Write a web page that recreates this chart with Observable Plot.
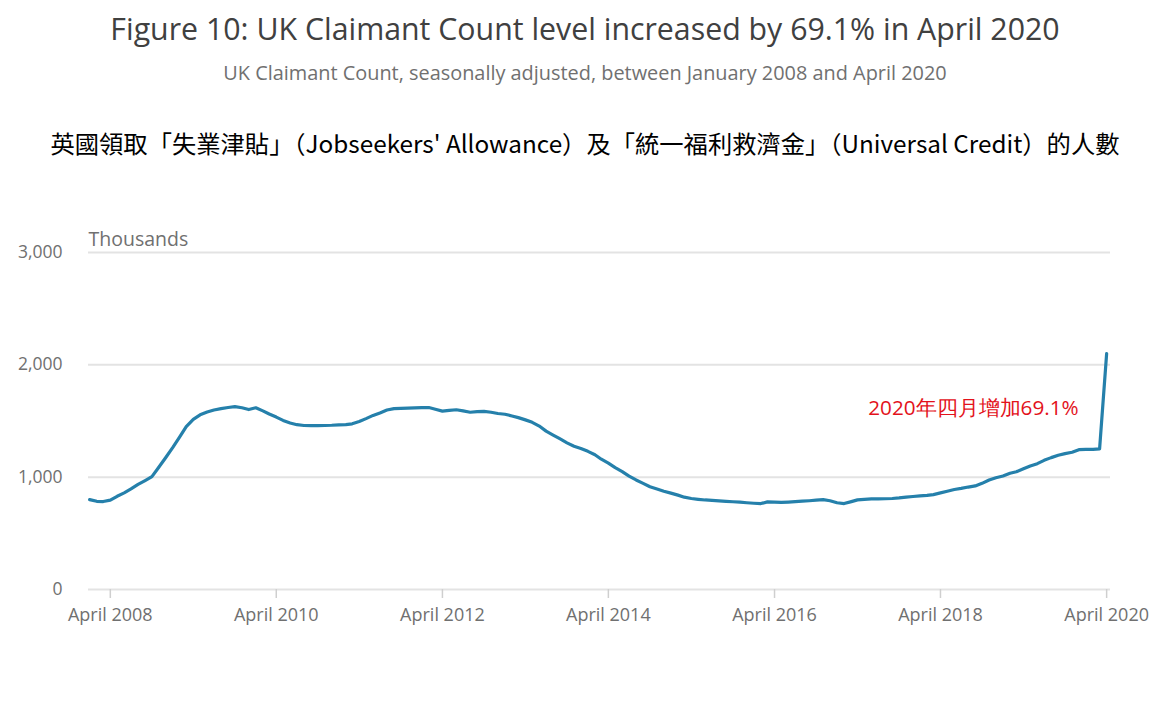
<!DOCTYPE html>
<html>
<head>
<meta charset="utf-8">
<script src="https://cdn.jsdelivr.net/npm/d3@7"></script>
<script src="https://cdn.jsdelivr.net/npm/@observablehq/plot@0.6"></script>
<style>
  body { margin: 0; background: #fff; width: 1170px; height: 722px; position: relative; overflow: hidden; font-family: "Open Sans", sans-serif; }
  #title { position: absolute; left: 0; width: 1170px; top: 9px; text-align: center; font-size: 30.3px; line-height: 40px; color: #404040; }
  #subtitle { position: absolute; left: 0; width: 1170px; top: 61px; text-align: center; font-size: 19.9px; line-height: 24px; color: #707070; }
  #zh { position: absolute; left: 0; width: 1170px; top: 127px; text-align: center; font-family: "Noto Sans CJK TC", sans-serif; font-size: 24.3px; line-height: 32px; color: #000; }
  #chart { position: absolute; left: 0; top: 180px; }
</style>
</head>
<body>
<div id="title">Figure 10: UK Claimant Count level increased by 69.1% in April 2020</div>
<div id="subtitle">UK Claimant Count, seasonally adjusted, between January 2008 and April 2020</div>
<div id="zh">英國領取「失業津貼」（Jobseekers' Allowance）及「統一福利救濟金」（Universal Credit）的人數</div>
<div id="chart"></div>
<script>
// UK Claimant Count, thousands, monthly from January of each year
const v2008 = [800, 785, 783, 795, 830, 860, 895, 935, 970, 1005, 1090, 1175];
const v2009 = [1265, 1360, 1450, 1515, 1555, 1580, 1598, 1610, 1620, 1628, 1618, 1602];
const v2010 = [1618, 1590, 1562, 1535, 1505, 1482, 1467, 1460, 1458, 1459, 1460, 1462];
const v2011 = [1466, 1468, 1475, 1495, 1521, 1550, 1572, 1598, 1610, 1612, 1614, 1617];
const v2012 = [1619, 1620, 1605, 1588, 1595, 1600, 1590, 1578, 1583, 1586, 1578, 1567];
const v2013 = [1560, 1545, 1530, 1510, 1488, 1455, 1410, 1375, 1340, 1305, 1275, 1255];
const v2014 = [1230, 1200, 1160, 1125, 1085, 1050, 1010, 975, 945, 915, 895, 875];
const v2015 = [858, 840, 822, 810, 803, 797, 793, 789, 785, 781, 777, 772];
const v2016 = [768, 765, 780, 778, 775, 778, 782, 786, 790, 795, 800, 790];
const v2017 = [772, 765, 780, 798, 803, 806, 807, 808, 810, 815, 822, 828];
const v2018 = [834, 838, 845, 860, 875, 890, 900, 912, 922, 945, 975, 995];
const v2019 = [1010, 1035, 1048, 1075, 1100, 1120, 1150, 1174, 1195, 1210, 1222, 1245];
const v2020 = [1248, 1248, 1252, 2100];
const yearSeries = [v2008, v2009, v2010, v2011, v2012, v2013, v2014, v2015, v2016, v2017, v2018, v2019, v2020];
const firstYear = 2008;

const yTicks = [0, 1000, 2000, 3000];
const xTickYears = [2008, 2010, 2012, 2014, 2016, 2018, 2020];
const xTickMonth = 3; // April
const monthName = "April";
const axisUnit = "Thousands";
const annotation = [{year: 2020, month: 3, value: 1612, label: "2020年四月增加69.1%"}];

const data = [];
yearSeries.forEach((arr, i) => arr.forEach((v, m) => data.push({date: new Date(Date.UTC(firstYear + i, m, 1)), value: v})));
const xTicks = xTickYears.map(y => new Date(Date.UTC(y, xTickMonth, 1)));
const annot = annotation.map(a => ({date: new Date(Date.UTC(a.year, a.month, 1)), value: a.value, label: a.label}));

const chart = Plot.plot({
  width: 1170,
  height: 542,
  marginLeft: 88,
  marginRight: 60,
  marginTop: 72,
  marginBottom: 133,
  style: {fontFamily: "Open Sans, sans-serif", fontSize: "16px", color: "#707070", background: "transparent"},
  x: {type: "utc", domain: [new Date(Date.UTC(2007, 11, 27)), new Date(Date.UTC(2020, 3, 18))]},
  y: {domain: [0, 3000]},
  marks: [
    Plot.ruleY(yTicks, {stroke: "#e3e3e3", strokeWidth: 2}),
    Plot.axisY(yTicks, {tickSize: 0, tickPadding: 26, tickFormat: d3.format(","), label: null, fill: "#707070", fontSize: 17.5}),
    Plot.axisX(xTicks, {tickSize: 9, tickPadding: 10, tickFormat: d => `${monthName} ${d.getUTCFullYear()}`, label: null, stroke: "#cfcfcf", strokeWidth: 1.5, fill: "#707070", fontSize: 18}),
    Plot.line(data, {x: "date", y: "value", stroke: "#2580ab", strokeWidth: 3.2}),
    Plot.text([axisUnit], {frameAnchor: "top-left", dy: -20, textAnchor: "start", fontSize: 19.5, fill: "#707070"}),
    Plot.text(annot, {x: "date", y: "value", text: "label", textAnchor: "end", dx: -28, fontSize: 20.7, fill: "#e3121b"})
  ]
});
document.getElementById("chart").appendChild(chart);
</script>
</body>
</html>
